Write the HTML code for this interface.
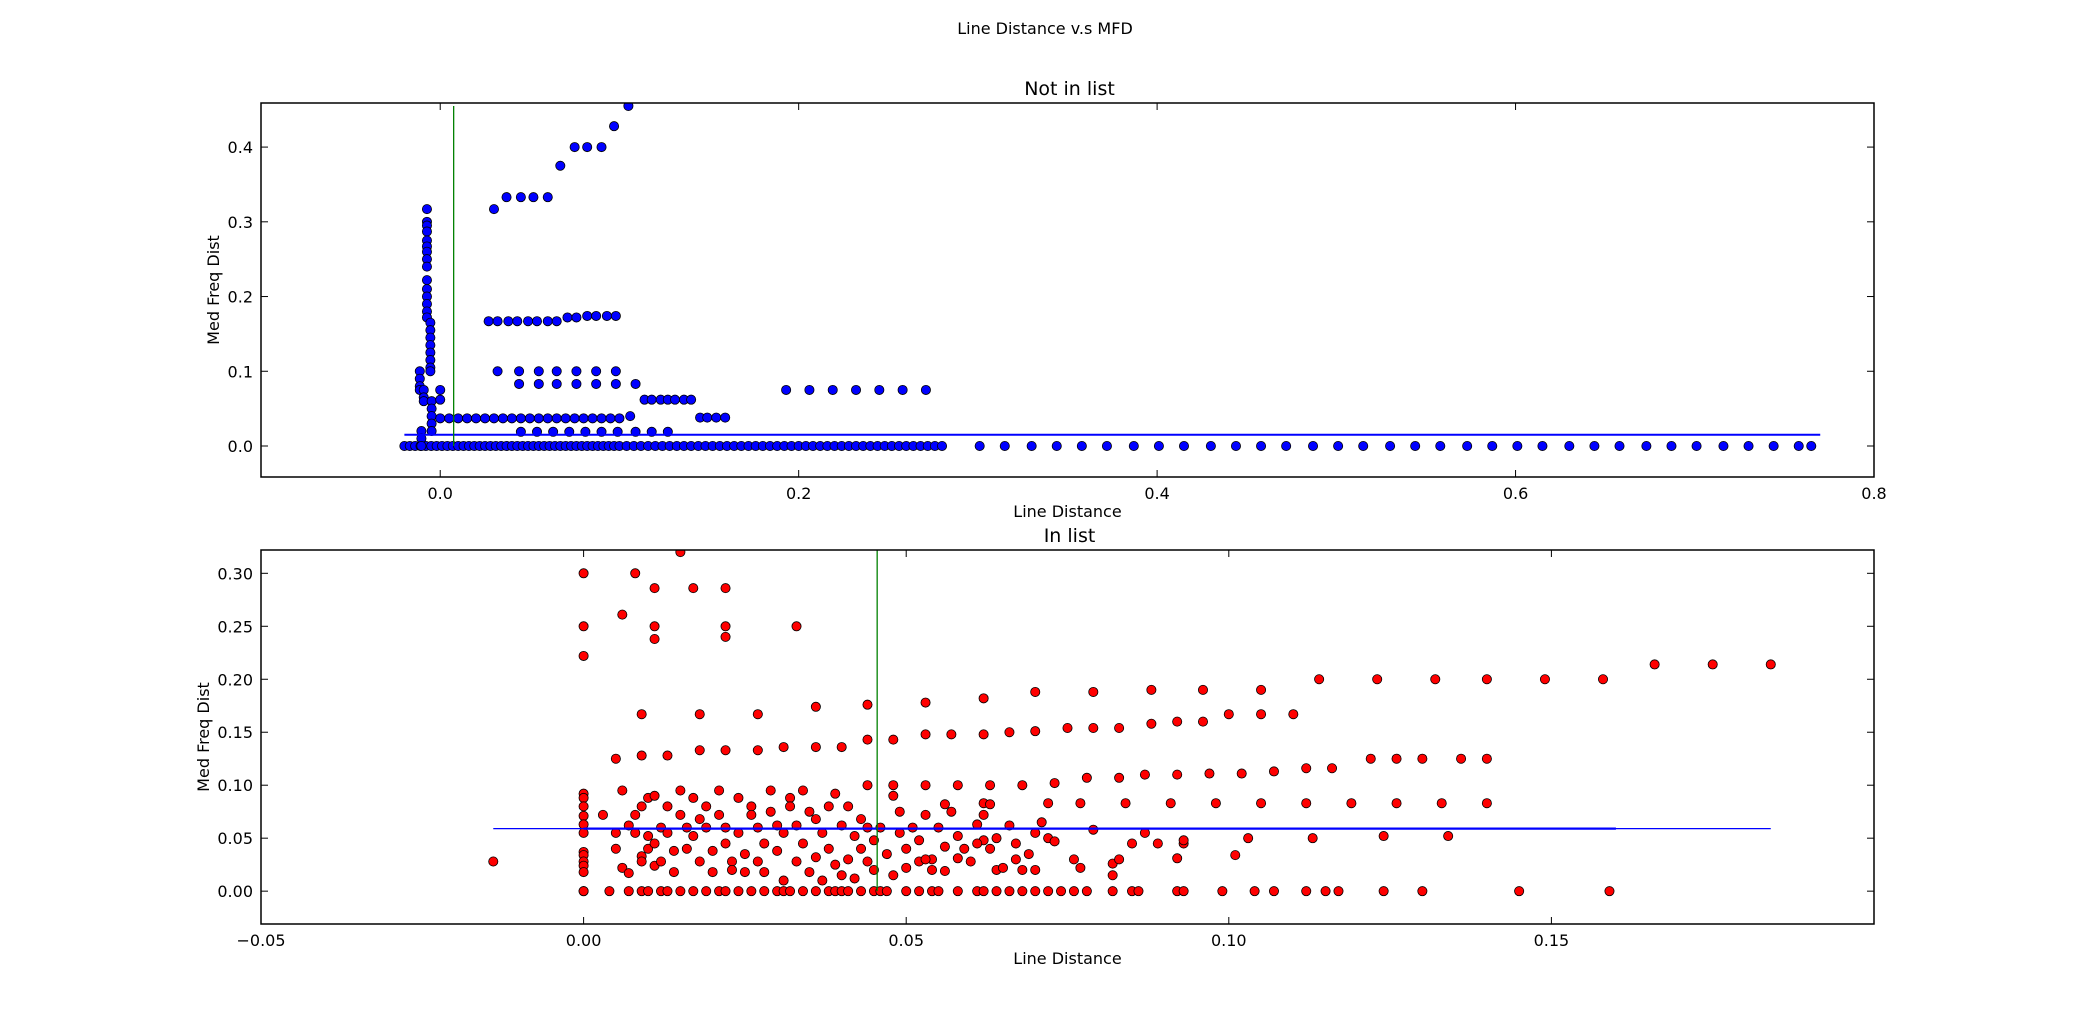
<!DOCTYPE html>
<html><head><meta charset="utf-8"><style>
body{margin:0;background:#fff}
svg{display:block;font-family:"DejaVu Sans","Liberation Sans",sans-serif}
</style></head><body>
<svg id="fig" width="2082" height="1026" viewBox="0 0 2082 1026" xmlns="http://www.w3.org/2000/svg">
<rect width="2082" height="1026" fill="#fff"/>
<text x="1045" y="34" font-size="16" text-anchor="middle">Line Distance v.s MFD</text>
<g id="top"></g>
<g id="bot"></g>
</svg>
<script>
// ---- top panel data (Not in list) ----
const topZeroX = [-0.02,-0.017,-0.014,-0.011,-0.008,-0.005,-0.002,0.001,0.004,0.007,0.01,0.013,0.016,0.019,0.022,0.025,0.028,0.031,0.034,0.037,0.04,0.043,0.046,0.049,0.052,0.055,0.058,0.061,0.064,0.067,0.07,0.073,0.076,0.079,0.082,0.085,0.088,0.091,0.094,0.097,0.1,0.104,0.108,0.112,0.116,0.12,0.124,0.128,0.132,0.136,0.14,0.144,0.148,0.152,0.156,0.16,0.164,0.168,0.172,0.176,0.18,0.184,0.188,0.192,0.196,0.2,0.204,0.208,0.212,0.216,0.22,0.224,0.228,0.232,0.236,0.24,0.244,0.248,0.252,0.256,0.26,0.264,0.268,0.272,0.276,0.28,0.301,0.315,0.33,0.344,0.358,0.372,0.387,0.401,0.415,0.43,0.444,0.458,0.472,0.487,0.501,0.515,0.53,0.544,0.558,0.573,0.587,0.601,0.615,0.63,0.644,0.658,0.673,0.687,0.701,0.716,0.73,0.744,0.758,0.765];
const topX = [-0.0074,-0.0074,-0.0074,-0.0074,-0.0074,-0.0074,-0.0074,-0.0074,-0.0074,-0.0074,-0.0074,-0.0074,-0.0074,-0.0074,-0.0074,-0.0055,-0.0055,-0.0055,-0.0055,-0.0055,-0.0055,-0.0055,-0.0055,-0.0114,-0.0114,-0.0114,-0.0114,-0.0092,-0.0092,-0.0092,-0.0048,-0.0048,-0.0048,-0.0048,-0.0048,-0.0105,-0.0105,-0.0105,0,0,
0,0.005,0.01,0.015,0.02,0.025,0.03,0.035,0.04,0.045,0.05,0.055,0.06,0.065,0.07,0.075,0.08,0.085,0.09,0.095,0.1,0.106,
0.027,0.032,0.038,0.043,0.049,0.054,0.06,0.065,0.071,0.076,0.082,0.087,0.093,0.098,
0.032,0.044,0.055,0.065,0.076,0.087,0.098,
0.044,0.055,0.065,0.076,0.087,0.098,0.109,
0.114,0.118,0.123,0.127,0.131,0.136,0.14,
0.145,0.149,0.154,0.159,
0.045,0.054,0.063,0.072,0.081,0.09,0.099,0.109,0.118,0.127,
0.193,0.206,0.219,0.232,0.245,0.258,0.271,
0.03,0.037,0.045,0.052,0.06,0.067,0.075,0.082,0.09,0.097,0.105];
const topY = [0.317,0.3,0.295,0.287,0.275,0.267,0.26,0.25,0.24,0.222,0.21,0.2,0.19,0.18,0.172,0.165,0.155,0.145,0.135,0.125,0.115,0.105,0.1,0.1,0.09,0.08,0.075,0.075,0.065,0.06,0.06,0.05,0.04,0.03,0.02,0.02,0.01,0.0,0.075,0.062,
0.037,0.037,0.037,0.037,0.037,0.037,0.037,0.037,0.037,0.037,0.037,0.037,0.037,0.037,0.037,0.037,0.037,0.037,0.037,0.037,0.037,0.04,
0.167,0.167,0.167,0.167,0.167,0.167,0.167,0.167,0.172,0.172,0.174,0.174,0.174,0.174,
0.1,0.1,0.1,0.1,0.1,0.1,0.1,
0.083,0.083,0.083,0.083,0.083,0.083,0.083,
0.062,0.062,0.062,0.062,0.062,0.062,0.062,
0.038,0.038,0.038,0.038,
0.019,0.019,0.019,0.019,0.019,0.019,0.019,0.019,0.019,0.019,
0.075,0.075,0.075,0.075,0.075,0.075,0.075,
0.317,0.333,0.333,0.333,0.333,0.375,0.4,0.4,0.4,0.428,0.455];
const topXTicks = [0.0,0.2,0.4,0.6,0.8];
const topXTickLabels = ["0.0","0.2","0.4","0.6","0.8"];
const topYTicks = [0.0,0.1,0.2,0.3,0.4];
const topYTickLabels = ["0.0","0.1","0.2","0.3","0.4"];
const topHLine = [-0.02,0.77,0.015];
const topVLine = [0.0075,0.0,0.455];

// ---- bottom panel data (In list) ----
const botZeroX = [0,0.004,0.007,0.009,0.01,0.012,0.013,0.015,0.017,0.019,0.021,0.022,0.024,0.026,0.028,0.03,0.031,0.032,0.034,0.036,0.038,0.039,0.04,0.041,0.043,0.045,0.046,0.047,0.05,0.052,0.054,0.055,0.058,0.061,0.062,0.064,0.066,0.068,0.07,0.072,0.074,0.076,0.078,0.082,0.085,0.086,0.092,0.093,0.099,0.104,0.107,0.112,0.115,0.117,0.124,0.13,0.145,0.159];
const botX = [-0.014,0,0,0,0,0,0,0,0,0,0,0,0,
0,0.008,0.015,0.011,0.017,0.022,0,0.011,0.022,0.033,0.006,0.011,0.022,0,
0.114,0.123,0.132,0.14,0.149,0.158,0.166,0.175,0.184,
0.044,0.053,0.062,0.07,0.079,0.088,0.096,0.105,
0.009,0.018,0.027,0.036,0.1,0.105,0.11,
0.048,0.044,0.053,0.057,0.062,0.066,0.07,0.075,0.079,0.083,0.088,0.092,0.096,
0.005,0.009,0.013,0.018,0.022,0.027,0.031,0.036,0.04,0.122,0.126,0.13,0.136,0.14,
0.044,0.048,0.053,0.058,0.063,0.068,0.073,0.078,0.083,0.087,0.092,0.097,0.102,0.107,0.112,0.116,
0.062,0.072,0.077,0.084,0.091,0.098,0.105,0.112,0.119,0.126,0.133,0.14,
0.072,0.073,0.076,0.077,0.079,0.082,0.082,0.083,0.085,0.087,0.089,0.093,0.093,0.092,0.101,0.103,0.113,0.124,0.134,0.068,0.07,0.064,0.067,0.063,0.062,0.059,0.058,0.056,0.054,
0.003,0.005,0.005,0.006,0.006,0.007,0.007,0.008,0.008,0.009,0.009,0.009,0.01,0.01,0.01,0.011,0.011,0.011,0.012,0.012,0.013,0.013,0.014,0.014,0.015,0.015,0.016,0.016,0.017,0.017,0.018,0.018,0.019,0.019,0.02,0.02,0.021,0.021,0.022,0.022,0.023,0.023,0.024,0.024,0.025,0.025,0.026,0.026,0.027,0.027,0.028,0.028,0.029,0.029,0.03,0.03,0.031,0.031,0.032,0.032,0.033,0.033,0.034,0.034,0.035,0.035,0.036,0.036,0.037,0.037,0.038,0.038,0.039,0.039,0.04,0.04,0.041,0.041,0.042,0.042,0.043,0.043,0.044,0.044,0.045,0.045,0.046,0.047,0.048,0.048,0.049,0.049,0.05,0.05,0.051,0.052,0.052,0.053,0.053,0.054,0.055,0.056,0.056,0.057,0.058,0.06,0.061,0.061,0.062,0.063,0.064,0.065,0.066,0.067,0.069,0.07,0.071];
const botY = [0.028,0.092,0.088,0.08,0.071,0.063,0.055,0.037,0.034,0.028,0.024,0.018,0.0,
0.3,0.3,0.32,0.286,0.286,0.286,0.25,0.25,0.25,0.25,0.261,0.238,0.24,0.222,
0.2,0.2,0.2,0.2,0.2,0.2,0.214,0.214,0.214,
0.176,0.178,0.182,0.188,0.188,0.19,0.19,0.19,
0.167,0.167,0.167,0.174,0.167,0.167,0.167,
0.143,0.143,0.148,0.148,0.148,0.15,0.151,0.154,0.154,0.154,0.158,0.16,0.16,
0.125,0.128,0.128,0.133,0.133,0.133,0.136,0.136,0.136,0.125,0.125,0.125,0.125,0.125,
0.1,0.1,0.1,0.1,0.1,0.1,0.102,0.107,0.107,0.11,0.11,0.111,0.111,0.113,0.116,0.116,
0.083,0.083,0.083,0.083,0.083,0.083,0.083,0.083,0.083,0.083,0.083,0.083,
0.05,0.047,0.03,0.022,0.058,0.015,0.026,0.03,0.045,0.055,0.045,0.045,0.048,0.031,0.034,0.05,0.05,0.052,0.052,0.02,0.02,0.02,0.03,0.04,0.048,0.04,0.031,0.019,0.03,
0.072,0.055,0.04,0.095,0.022,0.062,0.017,0.072,0.055,0.08,0.033,0.028,0.088,0.052,0.04,0.09,0.045,0.024,0.06,0.028,0.08,0.055,0.038,0.018,0.095,0.072,0.06,0.04,0.088,0.052,0.028,0.068,0.08,0.06,0.038,0.018,0.095,0.072,0.06,0.045,0.028,0.02,0.088,0.055,0.035,0.018,0.08,0.072,0.06,0.028,0.045,0.018,0.095,0.075,0.062,0.038,0.055,0.01,0.088,0.08,0.062,0.028,0.095,0.045,0.075,0.018,0.068,0.032,0.055,0.01,0.08,0.04,0.092,0.025,0.062,0.015,0.08,0.03,0.052,0.012,0.068,0.04,0.06,0.028,0.048,0.02,0.06,0.035,0.09,0.015,0.075,0.055,0.04,0.022,0.06,0.048,0.028,0.03,0.072,0.02,0.06,0.042,0.082,0.075,0.052,0.028,0.045,0.063,0.072,0.082,0.05,0.022,0.062,0.045,0.035,0.055,0.065];
const botXTicks = [-0.05,0.0,0.05,0.10,0.15];
const botXTickLabels = ["\u22120.05","0.00","0.05","0.10","0.15"];
const botYTicks = [0.0,0.05,0.10,0.15,0.20,0.25,0.30];
const botYTickLabels = ["0.00","0.05","0.10","0.15","0.20","0.25","0.30"];
const botHLineThin = [-0.014,0.184,0.059];
const botHLineThick = [0.0,0.16,0.059];
const botVLine = [0.0455,0.0,0.322];

const NS = "http://www.w3.org/2000/svg";
function mk(parent, tag, attrs){const e=document.createElementNS(NS,tag);for(const k in attrs)e.setAttribute(k,attrs[k]);parent.appendChild(e);return e;}

function panel(g, box, xd, yd, opts){
  const sx = v => box.l + (v - xd[0]) / (xd[1] - xd[0]) * (box.r - box.l);
  const sy = v => box.b - (v - yd[0]) / (yd[1] - yd[0]) * (box.b - box.t);
  const clip = "clip-" + opts.id;
  const cp = mk(g,"clipPath",{id:clip});
  mk(cp,"rect",{x:box.l,y:box.t,width:box.r-box.l,height:box.b-box.t});
  const plot = mk(g,"g",{"clip-path":"url(#"+clip+")"});
  
  
  const allX = opts.zeroX.concat(opts.xs);
  const allY = opts.zeroX.map(()=>0).concat(opts.ys);
  for (let i=0;i<allX.length;i++){
    const c = mk(plot,"circle",{cx:sx(allX[i]),cy:sy(allY[i]),r:4.6,fill:opts.color,stroke:"#000","stroke-width":0.8});
    
    
  }
  opts.hlines.forEach(h=>{
    const l = mk(plot,"line",{x1:sx(h[0]),x2:sx(h[1]),y1:sy(h[2]),y2:sy(h[2]),stroke:"#0000ff","stroke-width":h[3]});
    
    
  });
  const v = mk(plot,"line",{x1:sx(opts.vline[0]),x2:sx(opts.vline[0]),y1:sy(opts.vline[1]),y2:sy(opts.vline[2]),stroke:"#008000","stroke-width":1.3});
  
  
  const fr = mk(g,"rect",{x:box.l,y:box.t,width:box.r-box.l,height:box.b-box.t,fill:"none",stroke:"#000","stroke-width":1.5});
  
  
  opts.xt.forEach((t,i)=>{
    const x = sx(t);
    mk(g,"line",{x1:x,x2:x,y1:box.b,y2:box.b-7,stroke:"#000","stroke-width":1});
    mk(g,"line",{x1:x,x2:x,y1:box.t,y2:box.t+7,stroke:"#000","stroke-width":1});
    const tx = mk(g,"text",{x:x,y:box.b+22,"font-size":16,"text-anchor":"middle"});
    tx.textContent = opts.xtl[i];
    
    
  });
  opts.yt.forEach((t,i)=>{
    const y = sy(t);
    mk(g,"line",{x1:box.l,x2:box.l+7,y1:y,y2:y,stroke:"#000","stroke-width":1});
    mk(g,"line",{x1:box.r,x2:box.r-7,y1:y,y2:y,stroke:"#000","stroke-width":1});
    const tx = mk(g,"text",{x:box.l-8,y:y+6,"font-size":16,"text-anchor":"end"});
    tx.textContent = opts.ytl[i];
    
    
  });
  const ti = mk(g,"text",{x:(box.l+box.r)/2+2,y:box.t-8,"font-size":19,"text-anchor":"middle"});
  ti.textContent = opts.title;
  
  
  const xl = mk(g,"text",{x:(box.l+box.r)/2,y:box.b+40,"font-size":16,"text-anchor":"middle"});
  xl.textContent = "Line Distance";
  
  
  const yx = opts.ylx, yy=(box.t+box.b)/2;
  const yl = mk(g,"text",{x:yx,y:yy,"font-size":16,"text-anchor":"middle",transform:"rotate(-90 "+yx+" "+yy+")"});
  yl.textContent = "Med Freq Dist";
  
  
}

panel(document.getElementById('top'), {l:261,r:1874,t:103,b:477}, [-0.1,0.8], [-0.0415,0.459], {
  id:"top", color:"#0000ff", zeroX:topZeroX, xs:topX, ys:topY,
  hlines:[[topHLine[0],topHLine[1],topHLine[2],2]], vline:topVLine,
  xt:topXTicks, xtl:topXTickLabels, yt:topYTicks, ytl:topYTickLabels, title:"Not in list", ylx:219});
panel(document.getElementById('bot'), {l:261,r:1874,t:550,b:924}, [-0.05,0.2], [-0.031,0.322], {
  id:"bottom", color:"#ff0000", zeroX:botZeroX, xs:botX, ys:botY,
  hlines:[[botHLineThin[0],botHLineThin[1],botHLineThin[2],1.3],[botHLineThick[0],botHLineThick[1],botHLineThick[2],2.2]], vline:botVLine,
  xt:botXTicks, xtl:botXTickLabels, yt:botYTicks, ytl:botYTickLabels, title:"In list", ylx:209});
</script>
</body></html>
